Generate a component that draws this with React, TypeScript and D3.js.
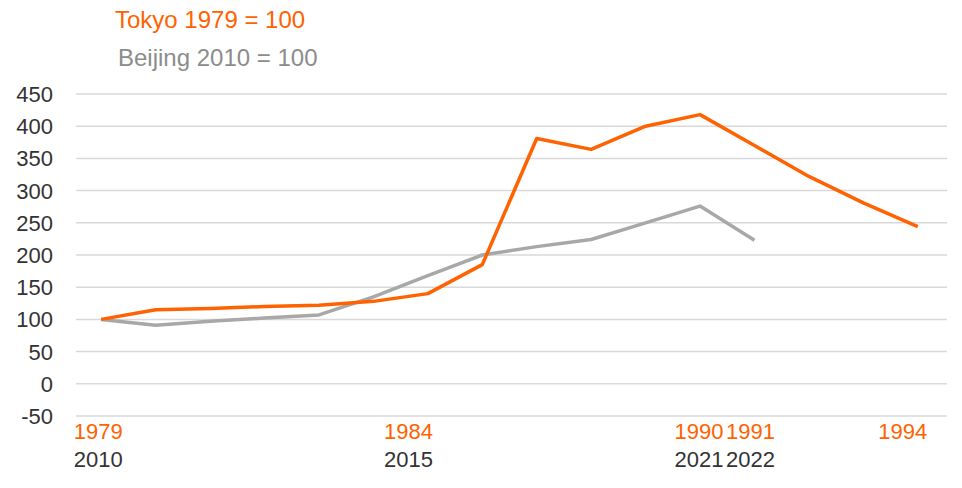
import React from "react";
import * as d3 from "d3";

const tokyoYears = [1979,1980,1981,1982,1983,1984,1985,1986,1987,1988,1989,1990,1991,1992,1993,1994];
const tokyoValues = [100,115,117,120,122,128,140,185,381,364,400,418,370,322,281,244];
const beijingYears = [2010,2011,2012,2013,2014,2015,2016,2017,2018,2019,2020,2021,2022];
const beijingValues = [100,91,97,102,107,135,168,200,213,224,250,276,223];
const yTicks = [-50,0,50,100,150,200,250,300,350,400,450];
const tokyoTickLabels = ["1979","1984","1990","1991","1994"];
const beijingTickLabels = ["2010","2015","2021","2022"];

const ORANGE = "#FF6200";
const GRAY = "#A8A8A8";
const FONT = "'Liberation Sans', Arial, sans-serif";

// label nudges (px) to mirror the reference's placement
const labelNudge: Record<string, number> = { "1979": -3, "1984": 35, "1990": -1, "1991": -4, "1994": -15, "2010": -3, "2015": 35, "2021": -1, "2022": -4 };

export default function App() {
  const W = 962, H = 488;
  const left = 76, right = 947, top = 94, bottom = 416;
  const x = d3.scaleBand<number>().domain(d3.range(tokyoYears.length)).range([left, right]);
  const cx = (i: number) => (x(i) as number) + x.bandwidth() / 2 - 2;
  const y = d3.scaleLinear().domain([-50, 450]).range([bottom, top]);
  const line = d3.line<number>().x((_, i) => cx(i)).y(d => y(d));

  return (
    <svg width={W} height={H} style={{ position: "absolute", left: 0, top: 0, background: "#fff" }} fontFamily={FONT}>
      <text x={115} y={28} fontSize={24} fill={ORANGE}>Tokyo 1979 = 100</text>
      <text x={118} y={66} fontSize={24} fill="#8C8C8C">Beijing 2010 = 100</text>
      {yTicks.map(t => (
        <g key={t}>
          <line x1={left} x2={right} y1={y(t)} y2={y(t)} stroke="#D9D9D9" strokeWidth={1.5} />
          <text x={53} y={y(t)} dy="0.36em" textAnchor="end" fontSize={22} fill="#333">{t}</text>
        </g>
      ))}
      <path d={line(beijingValues) || ""} fill="none" stroke={GRAY} strokeWidth={3.5} strokeLinejoin="round" />
      <path d={line(tokyoValues) || ""} fill="none" stroke={ORANGE} strokeWidth={3.5} strokeLinejoin="round" />
      {tokyoTickLabels.map(l => {
        const i = tokyoYears.indexOf(+l);
        return <text key={l} x={cx(i) + labelNudge[l]} y={439} textAnchor="middle" fontSize={22} fill={ORANGE}>{l}</text>;
      })}
      {beijingTickLabels.map(l => {
        const i = beijingYears.indexOf(+l);
        return <text key={l} x={cx(i) + labelNudge[l]} y={467} textAnchor="middle" fontSize={22} fill="#333">{l}</text>;
      })}
    </svg>
  );
}
